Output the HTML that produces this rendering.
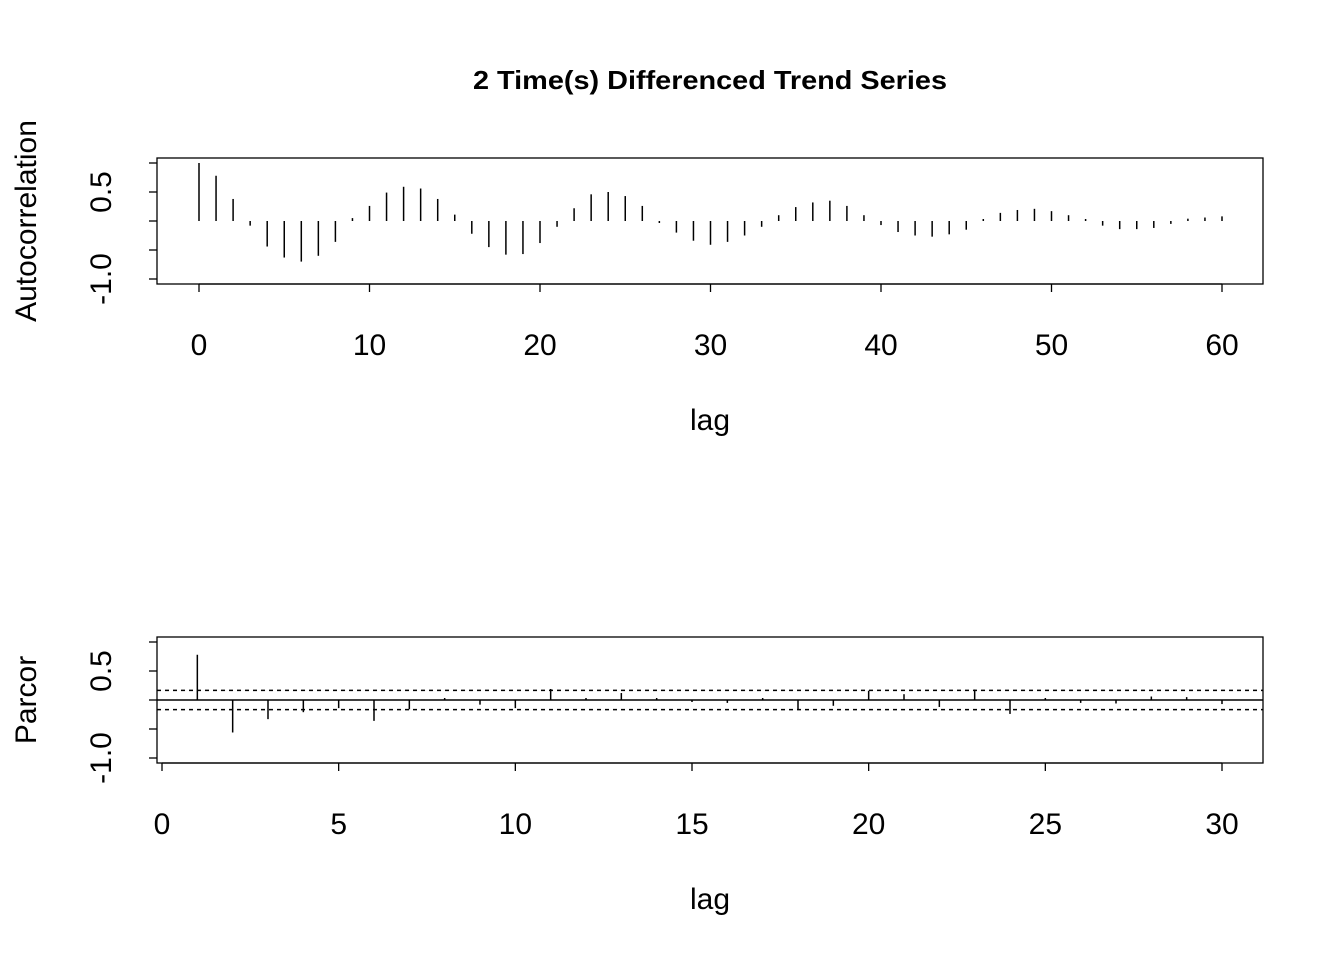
<!DOCTYPE html>
<html><head><meta charset="utf-8"><style>
body{margin:0;background:#fff}
svg text{font-family:"Liberation Sans",Arial,sans-serif;fill:#000}
</style></head><body>
<svg id="c" width="1344" height="960" xmlns="http://www.w3.org/2000/svg">
<text x="710" y="89" font-size="26" font-weight="bold" text-anchor="middle" textLength="474" lengthAdjust="spacingAndGlyphs">2 Time(s) Differenced Trend Series</text>
<g id="top"></g>
<g id="bot"></g>
</svg>
<script>
const acfLags = Array.from({length:61},(_,i)=>i);
const acfValues = [1.0,0.78,0.38,-0.08,-0.44,-0.63,-0.70,-0.60,-0.36,0.05,0.26,0.49,0.59,0.56,0.38,0.11,-0.22,-0.45,-0.58,-0.57,-0.38,-0.10,0.22,0.46,0.50,0.43,0.26,-0.02,-0.20,-0.34,-0.41,-0.36,-0.25,-0.10,0.10,0.24,0.32,0.35,0.26,0.10,-0.07,-0.19,-0.25,-0.27,-0.23,-0.15,0.03,0.14,0.19,0.21,0.17,0.10,0.01,-0.08,-0.14,-0.14,-0.12,-0.05,0.04,0.06,0.08];
const acfXTicks = [0,10,20,30,40,50,60];
const pacfLags = Array.from({length:30},(_,i)=>i+1);
const pacfValues = [0.78,-0.56,-0.33,-0.21,-0.14,-0.36,-0.16,0.03,-0.08,-0.14,0.19,0.03,0.12,0.01,-0.02,-0.05,0.03,-0.16,-0.10,0.16,0.10,-0.12,0.18,-0.24,0.03,-0.05,-0.06,0.06,0.05,-0.07];
const pacfXTicks = [0,5,10,15,20,25,30];
const pacfBound = [0.165,-0.165];
const yTicks = [-1,-0.5,0,0.5,1];
const yLabels = {"-1":"-1.0","0.5":"0.5"};
const NS="http://www.w3.org/2000/svg";
const FS=30;
function mk(p,t,a){const e=document.createElementNS(NS,t);for(const k in a)e.setAttribute(k,a[k]);p.appendChild(e);return e;}
function panel(g,top,x0px,x1px,xmin,xmax,lags,vals,ticks,ylab,bounds){
  const bx0=157,bx1=1263,by0=top,by1=top+126;
  const zero=top+63;
  const xs=v=>x0px+(v-xmin)*(x1px-x0px)/(xmax-xmin);
  const ys=v=>zero-v*58;
  const box=mk(g,'rect',{x:bx0,y:by0,width:bx1-bx0,height:by1-by0,fill:'none',stroke:'#000','stroke-width':1.3});
  
  
  yTicks.forEach(t=>{
    const l=mk(g,'line',{x1:bx0,x2:bx0-8,y1:ys(t),y2:ys(t),stroke:'#000','stroke-width':1.3});
    
    
    if(yLabels[String(t)]){
      const tx=mk(g,'text',{x:0,y:0,'font-size':FS,'text-anchor':'middle',transform:`translate(111,${ys(t)}) rotate(-90)`});
      tx.textContent=yLabels[String(t)];
      
      
    }
  });
  const ax=mk(g,'line',{x1:xs(ticks[0]),x2:xs(ticks[ticks.length-1]),y1:by1,y2:by1,stroke:'#000','stroke-width':1.3});
  
  
  ticks.forEach(t=>{
    const l=mk(g,'line',{x1:xs(t),x2:xs(t),y1:by1,y2:by1+8,stroke:'#000','stroke-width':1.3});
    
    
    const tx=mk(g,'text',{x:xs(t),y:by1+71,'font-size':FS,'text-anchor':'middle'});
    tx.textContent=t;
    
    
  });
  const xl=mk(g,'text',{x:710,y:by1+146,'font-size':FS,'text-anchor':'middle'});
  xl.textContent='lag';
  
  
  const yl=mk(g,'text',{x:0,y:0,'font-size':FS,'text-anchor':'middle',transform:`translate(36,${zero}) rotate(-90)`});
  yl.textContent=ylab;
  
  
  if(bounds){
    const z=mk(g,'line',{x1:bx0,x2:bx1,y1:zero,y2:zero,stroke:'#000','stroke-width':1.6});
    
    
    bounds.forEach(b=>{
      const d=mk(g,'line',{x1:bx0,x2:bx1,y1:ys(b),y2:ys(b),stroke:'#000','stroke-width':1.5,'stroke-dasharray':'4 4'});
      
      
    });
  }
  lags.forEach((lag,i)=>{
    const v=vals[i];
    let y1=zero,y2=ys(v);
    if(Math.abs(y2-y1)<2)y2=y1+(v>=0?-2:2);
    const b=mk(g,'line',{x1:xs(lag),x2:xs(lag),y1:y1,y2:y2,stroke:'#000','stroke-width':1.5});
    
    
  });
}
panel(document.getElementById('top'),158,199,1222,0,60,acfLags,acfValues,acfXTicks,'Autocorrelation',null);
panel(document.getElementById('bot'),637,162,1222,0,30,pacfLags,pacfValues,pacfXTicks,'Parcor',pacfBound);
</script>
</body></html>
